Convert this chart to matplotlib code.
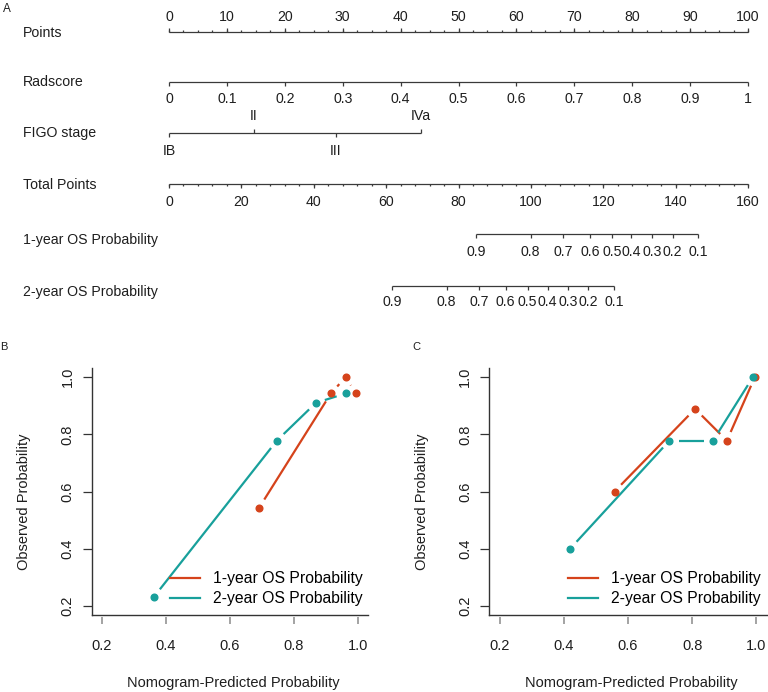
import numpy as np
import matplotlib
matplotlib.use("Agg")
import matplotlib.pyplot as plt
from matplotlib.lines import Line2D
from matplotlib import transforms

plt.rcParams['font.family'] = ['Liberation Sans', 'DejaVu Sans']

# ---------------- data ----------------
points_major = np.arange(0, 101, 10)
points_minor = np.arange(0, 100.01, 2.5)

radscore_values = [0, 0.1, 0.2, 0.3, 0.4, 0.5, 0.6, 0.7, 0.8, 0.9, 1.0]
radscore_labels = ['0', '0.1', '0.2', '0.3', '0.4', '0.5', '0.6', '0.7', '0.8', '0.9', '1']

figo_levels = ['IB', 'II', 'III', 'IVa']
figo_points = [0, 14.7, 28.8, 43.5]
figo_above = [False, True, False, True]

total_max = 160
total_major = np.arange(0, 161, 20)
total_minor = np.arange(0, 161, 4)

os_prob_labels = ['0.9', '0.8', '0.7', '0.6', '0.5', '0.4', '0.3', '0.2', '0.1']
os1_total_points = [84.8, 99.9, 109.0, 116.3, 122.5, 127.8, 133.4, 139.2, 146.3]
os2_total_points = [61.7, 76.7, 85.7, 93.0, 99.1, 104.6, 110.2, 115.9, 123.0]

b1_pred = [0.692, 0.916, 0.962, 0.994]
b1_obs = [0.544, 0.943, 1.000, 0.943]
b2_pred = [0.363, 0.747, 0.869, 0.962]
b2_obs = [0.232, 0.778, 0.910, 0.943]

c1_pred = [0.558, 0.809, 0.908, 0.995]
c1_obs = [0.600, 0.889, 0.778, 1.000]
c2_pred = [0.420, 0.729, 0.865, 0.989]
c2_obs = [0.400, 0.778, 0.778, 1.000]

series_names = ['1-year OS Probability', '2-year OS Probability']
RED = '#D5431B'
TEAL = '#18A09B'

# ---------------- figure ----------------
W, H = 768, 692
fig = plt.figure(figsize=(W / 100, H / 100), dpi=100)
TXT = '#1e1e1e'
LN = '#3a3a3a'
FS = 10.2

# ---------- Nomogram (panel A) ----------
NH = 320
axn = fig.add_axes([0, 1 - NH / H, 1, NH / H])
pxpt = (748 - 169) / 100.0
axn.set_xlim(-169 / pxpt, (W - 169) / pxpt)
axn.set_ylim(NH, 0)
axn.axis('off')
lab_tr = transforms.blended_transform_factory(axn.transAxes, axn.transData)

def row_label(y, s):
    axn.text(22.7 / W, y, s, transform=lab_tr, ha='left', va='center',
             fontsize=FS, color=TXT)

lw = 0.9
# Points
y = 32.3
row_label(33, 'Points')
axn.hlines(y, 0, 100, color=LN, lw=lw)
axn.vlines(points_minor, y, y - 2, color=LN, lw=lw)
axn.vlines(points_major, y, y - 4, color=LN, lw=lw)
for v in points_major:
    axn.text(v, 17, str(v), ha='center', va='center', fontsize=FS, color=TXT)

# Radscore
y = 81.7
row_label(82, 'Radscore')
rp = np.array(radscore_values) * 100
axn.hlines(y, rp[0], rp[-1], color=LN, lw=lw)
axn.vlines(rp, y, y + 4, color=LN, lw=lw)
for v, s in zip(rp, radscore_labels):
    axn.text(v, 99, s, ha='center', va='center', fontsize=FS, color=TXT)

# FIGO stage
y = 133.3
row_label(133, 'FIGO stage')
axn.hlines(y, min(figo_points), max(figo_points), color=LN, lw=lw)
for v, s, up in zip(figo_points, figo_levels, figo_above):
    if up:
        axn.vlines(v, y, y - 4, color=LN, lw=lw)
        axn.text(v, 116, s, ha='center', va='center', fontsize=FS, color=TXT)
    else:
        axn.vlines(v, y, y + 4, color=LN, lw=lw)
        axn.text(v, 151, s, ha='center', va='center', fontsize=FS, color=TXT)

# Total points
y = 184.3
row_label(185, 'Total Points')
sc = 100.0 / total_max
axn.hlines(y, 0, total_max * sc, color=LN, lw=lw)
axn.vlines(total_minor * sc, y, y + 2, color=LN, lw=lw)
axn.vlines(total_major * sc, y, y + 4, color=LN, lw=lw)
for v in total_major:
    axn.text(v * sc, 201.7, str(v), ha='center', va='center', fontsize=FS, color=TXT)

# OS probability axes
for yline, ylab, ytxt, tp, name in [(234.0, 240, 252.5, os1_total_points, series_names[0]),
                                    (285.7, 292, 302.5, os2_total_points, series_names[1])]:
    row_label(ylab, name)
    p = np.array(tp) * sc
    axn.hlines(yline, p.min(), p.max(), color=LN, lw=lw)
    axn.vlines(p, yline, yline + 4, color=LN, lw=lw)
    for v, s in zip(p, os_prob_labels):
        axn.text(v, ytxt, s, ha='center', va='center', fontsize=FS, color=TXT)

fig.text(7 / W, 1 - 9 / H, 'A', ha='center', va='center', fontsize=8.5, color=TXT)

# ---------- Calibration panels ----------
GAP = 9.4

def gapped_series(ax, xs, ys, color):
    pts = ax.transData.transform(np.column_stack([xs, ys]))
    inv = ax.transData.inverted()
    for i in range(len(pts) - 1):
        p0, p1 = pts[i], pts[i + 1]
        d = p1 - p0
        L = np.hypot(*d)
        if L > 2 * GAP:
            u = d / L
            a = inv.transform(p0 + u * GAP)
            b = inv.transform(p1 - u * GAP)
            ax.plot([a[0], b[0]], [a[1], b[1]], color=color, lw=1.6,
                    solid_capstyle='butt', zorder=3)
    ax.plot(xs, ys, 'o', color=color, ms=4.8, mec=color, zorder=4)

def calib_panel(left_px, width_px, s1, s2, letter, letter_x):
    ax = fig.add_axes([left_px / W, 1 - 615 / H, width_px / W, 247 / H])
    ax.set_xlim(0.168, 1.032)
    ax.set_ylim(0.168, 1.032)
    ticks = [0.2, 0.4, 0.6, 0.8, 1.0]
    ax.set_xticks(ticks)
    ax.set_yticks(ticks)
    ax.set_xticklabels([f'{t:.1f}' for t in ticks])
    ax.set_yticklabels([f'{t:.1f}' for t in ticks], rotation=90, va='center')
    for s in ['top', 'right']:
        ax.spines[s].set_visible(False)
    ax.spines['left'].set_color('#333333')
    ax.spines['left'].set_linewidth(1.0)
    ax.spines['bottom'].set_position(('outward', 1.7))
    ax.spines['bottom'].set_visible(False)
    ax.plot([0, 1], [0, 0], transform=ax.transAxes, color='#333333', lw=1.0,
            clip_on=False, zorder=5)
    ax.tick_params(axis='x', length=4.75, width=1.1, color='#8a8a8a', pad=11.0,
                   labelsize=10.5, labelcolor=TXT)
    ax.tick_params(axis='y', length=6.5, width=0.9, color='#333333', pad=5.8,
                   labelsize=10.5, labelcolor=TXT)
    gapped_series(ax, s1[0], s1[1], RED)
    gapped_series(ax, s2[0], s2[1], TEAL)
    handles = [Line2D([], [], color=RED, lw=1.6), Line2D([], [], color=TEAL, lw=1.6)]
    frac = (170 - 91.7) / 276.3
    ax.legend(handles, series_names, loc='upper left', bbox_to_anchor=(frac, 0.177),
              frameon=False, fontsize=11.3, handlelength=1.92, handletextpad=0.82,
              labelspacing=0.33, borderpad=0, borderaxespad=0)
    cx = left_px + width_px / 2
    fig.text((cx + 3.5) / W, 1 - 682.5 / H, 'Nomogram-Predicted Probability',
             ha='center', va='center', fontsize=10.5, color=TXT)
    fig.text((left_px - 67.7) / W, 1 - 501.7 / H, 'Observed Probability',
             rotation=90, ha='center', va='center', fontsize=10.5, color=TXT)
    fig.text(letter_x / W, 1 - 347 / H, letter, ha='center', va='center',
             fontsize=8, color=TXT)
    return ax

calib_panel(91.7, 276.3, (b1_pred, b1_obs), (b2_pred, b2_obs), 'B', 4)
calib_panel(489.3, 277.4, (c1_pred, c1_obs), (c2_pred, c2_obs), 'C', 416)

fig.savefig('out.png', dpi=100)
